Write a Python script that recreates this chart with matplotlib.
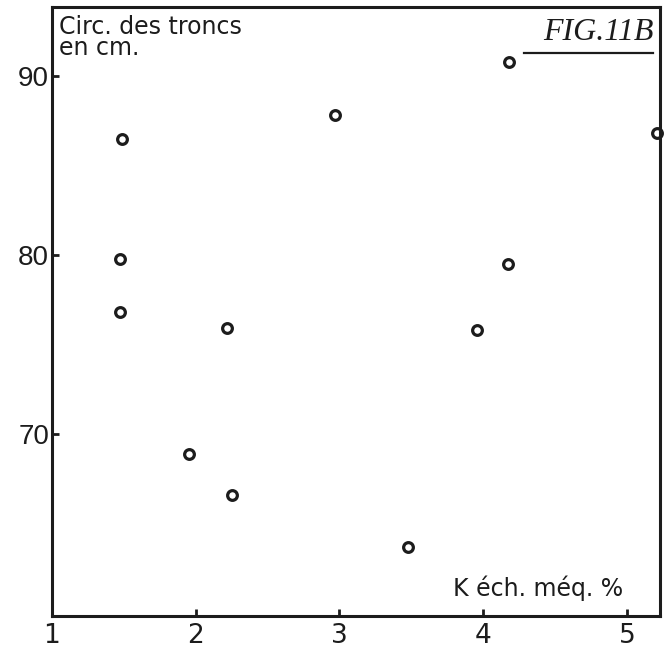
import matplotlib
matplotlib.use('Agg')
import matplotlib.pyplot as plt

# K échangeable (méq. %) et circonférence des troncs (cm)
k_ech = [1.49, 1.47, 1.47, 1.95, 2.22, 2.25, 2.97, 3.48, 3.96, 4.18, 4.17, 5.21]
circ = [86.5, 79.8, 76.8, 68.9, 75.9, 66.6, 87.8, 63.7, 75.8, 90.8, 79.5, 86.8]

x_ticks = [2, 3, 4, 5]
y_ticks = [70, 80, 90]

ink = '#1c1c1c'
narrow = ['Liberation Sans Narrow', 'DejaVu Sans Condensed', 'DejaVu Sans']

fig = plt.figure(figsize=(6.69, 6.52), dpi=100)
ax = fig.add_axes([0.0777, 0.0552, 0.9088, 0.9341])

ax.plot(k_ech, circ, linestyle='none', marker='o', markersize=7,
        markerfacecolor='white', markeredgecolor=ink, markeredgewidth=2.3,
        clip_on=False)

ax.set_xlim(1, 5.23)
ax.set_ylim(59.83, 93.85)

for s in ax.spines.values():
    s.set_linewidth(2.2)
    s.set_color(ink)

ax.set_xticks(x_ticks)
ax.set_yticks(y_ticks)
ax.tick_params(direction='in', length=5, width=2, color=ink, labelcolor=ink)
ax.tick_params(axis='x', pad=5)
ax.tick_params(axis='y', pad=2)
for lab in ax.get_xticklabels():
    lab.set_family(narrow)
    lab.set_fontsize(19)
for lab in ax.get_yticklabels():
    lab.set_family(['Liberation Sans', 'DejaVu Sans'])
    lab.set_fontsize(20)

# "1" sous l'origine de l'axe
ax.text(1, -0.012, '1', transform=ax.get_xaxis_transform(), ha='center', va='top',
        family=narrow, fontsize=19, color=ink)

ax.text(0.012, 0.987, 'Circ. des troncs\nen cm.', transform=ax.transAxes,
        ha='left', va='top', family=narrow, fontsize=17, color=ink,
        linespacing=0.85)
ax.text(0.94, 0.025, 'K éch. méq. %', transform=ax.transAxes,
        ha='right', va='bottom', family=narrow, fontsize=17, color=ink)

ax.text(0.99, 0.982, 'FIG.11B', transform=ax.transAxes, ha='right', va='top',
        family=['Liberation Serif', 'DejaVu Serif'], style='italic',
        fontsize=23, color=ink)
ax.plot([0.777, 0.989], [0.925, 0.925], transform=ax.transAxes,
        color=ink, linewidth=1.6, clip_on=False)

fig.savefig('out.png', dpi=100)
plt.close(fig)
